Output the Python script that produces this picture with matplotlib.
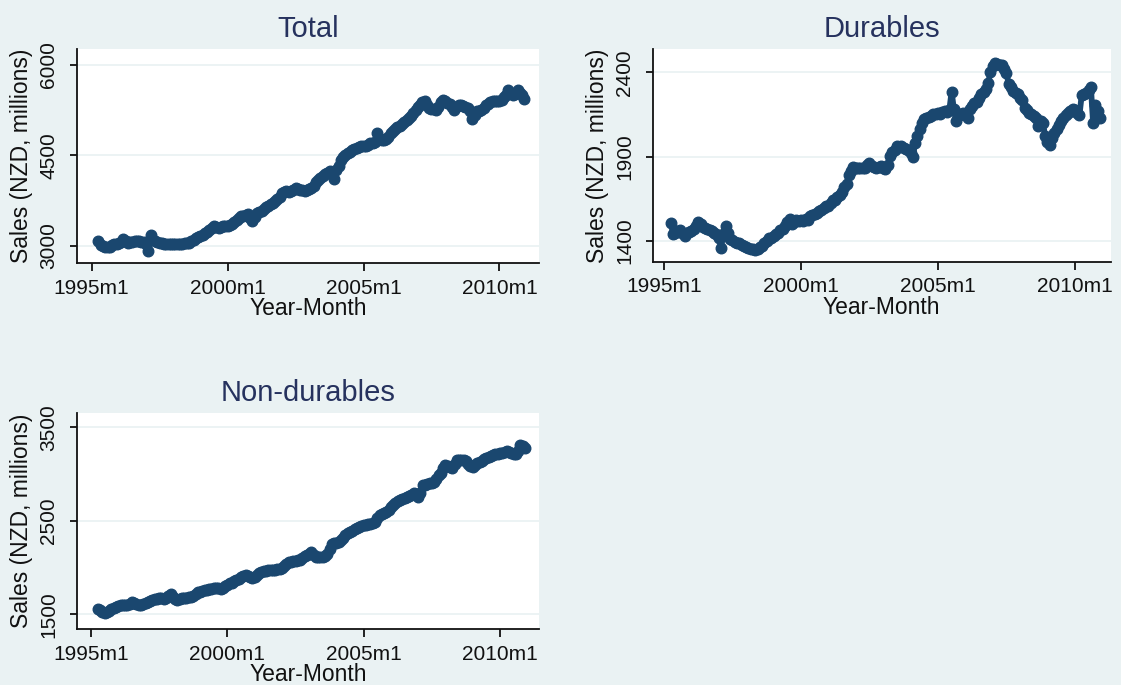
import matplotlib
matplotlib.use("Agg")
import matplotlib.pyplot as plt
import numpy as np
import pandas as pd

# ---------------- data (monthly, 1995m4 .. 2010m12) ----------------
start_month = "1995-04"
end_month = "2010-12"

total = [
    3080, 3015, 3000, 2980, 2975, 2990, 3010, 3025, 3040,                      # 1995 Apr-Dec
    3050, 3070, 3110, 3080, 3055, 3065, 3070, 3075, 3080, 3075, 3070, 3060,    # 1996
    3040, 2925, 3190, 3100, 3085, 3060, 3050, 3045, 3040, 3030, 3030, 3025,    # 1997
    3030, 3025, 3035, 3030, 3040, 3050, 3045, 3055, 3075, 3100, 3130, 3150,    # 1998
    3170, 3190, 3210, 3230, 3260, 3300, 3330, 3310, 3300, 3315, 3325, 3330,    # 1999
    3335, 3345, 3360, 3390, 3430, 3470, 3495, 3505, 3515, 3525, 3470, 3420,    # 2000
    3480, 3540, 3560, 3580, 3610, 3640, 3665, 3690, 3715, 3745, 3775, 3810,    # 2001
    3870, 3890, 3905, 3900, 3910, 3935, 3960, 3945, 3935, 3920, 3910, 3930,    # 2002
    3950, 3965, 4000, 4060, 4100, 4130, 4160, 4185, 4210, 4235, 4225, 4110,    # 2003
    4260, 4330, 4420, 4470, 4510, 4540, 4560, 4590, 4610, 4625, 4640, 4650,    # 2004
    4655, 4660, 4680, 4705, 4710, 4730, 4870, 4790, 4760, 4755, 4765, 4800,    # 2005
    4880, 4910, 4940, 4975, 4985, 5020, 5060, 5090, 5120, 5150, 5200, 5250,    # 2006
    5300, 5345, 5390, 5395, 5340, 5290, 5275, 5265, 5255, 5300, 5380, 5420,    # 2007
    5410, 5375, 5350, 5300, 5260, 5300, 5330, 5345, 5325, 5310, 5280, 5230,    # 2008
    5100, 5170, 5230, 5245, 5255, 5290, 5330, 5350, 5385, 5395, 5400, 5395,    # 2009
    5395, 5420, 5470, 5510, 5585, 5540, 5505, 5520, 5590, 5540, 5500, 5430,    # 2010
]

durables = [
    1505, 1440, 1450, 1460, 1465, 1445, 1430, 1450, 1455,                      # 1995 Apr-Dec
    1460, 1470, 1490, 1515, 1500, 1485, 1475, 1470, 1465, 1460, 1450, 1440,    # 1996
    1420, 1360, 1440, 1490, 1450, 1410, 1405, 1395, 1390, 1385, 1375, 1370,    # 1997
    1365, 1360, 1355, 1350, 1345, 1355, 1365, 1370, 1385, 1400, 1415, 1420,    # 1998
    1430, 1440, 1450, 1465, 1470, 1490, 1515, 1530, 1500, 1510, 1525, 1520,    # 1999
    1525, 1520, 1530, 1525, 1545, 1555, 1560, 1565, 1575, 1585, 1595, 1605,    # 2000
    1610, 1625, 1640, 1645, 1660, 1670, 1690, 1720, 1740, 1790, 1815, 1840,    # 2001
    1835, 1830, 1835, 1830, 1835, 1850, 1860, 1845, 1840, 1835, 1840, 1845,    # 2002
    1835, 1825, 1850, 1905, 1925, 1940, 1960, 1955, 1960, 1950, 1945, 1940,    # 2003
    1920, 1895, 1980, 2020, 2065, 2100, 2120, 2130, 2135, 2140, 2150, 2155,    # 2004
    2160, 2155, 2165, 2170, 2165, 2175, 2285, 2180, 2110, 2140, 2155, 2160,    # 2005
    2145, 2130, 2185, 2200, 2215, 2225, 2245, 2270, 2280, 2300, 2335, 2400,    # 2006
    2435, 2455, 2450, 2445, 2440, 2420, 2395, 2330, 2310, 2290, 2275, 2270,    # 2007
    2250, 2235, 2190, 2175, 2160, 2150, 2140, 2130, 2080, 2110, 2100, 2020,    # 2008
    1985, 1970, 2010, 2040, 2065, 2085, 2110, 2130, 2145, 2160, 2170, 2185,    # 2009
    2175, 2160, 2145, 2265, 2270, 2275, 2295, 2315, 2100, 2205, 2170, 2130,    # 2010
]

non_durables = [
    1560, 1545, 1530, 1510, 1520, 1540, 1555, 1565, 1580,                      # 1995 Apr-Dec
    1590, 1600, 1595, 1600, 1605, 1615, 1630, 1625, 1615, 1605, 1600, 1610,    # 1996
    1625, 1635, 1645, 1655, 1665, 1665, 1670, 1670, 1668, 1675, 1695, 1720,    # 1997
    1690, 1660, 1650, 1665, 1670, 1675, 1680, 1685, 1690, 1700, 1715, 1735,    # 1998
    1740, 1750, 1760, 1765, 1770, 1775, 1780, 1785, 1780, 1775, 1780, 1800,    # 1999
    1815, 1830, 1840, 1855, 1865, 1880, 1895, 1905, 1920, 1915, 1900, 1885,    # 2000
    1895, 1920, 1945, 1955, 1960, 1965, 1970, 1970, 1975, 1975, 1980, 1990,    # 2001
    2000, 2020, 2040, 2060, 2065, 2070, 2075, 2080, 2085, 2100, 2120, 2135,    # 2002
    2150, 2165, 2135, 2115, 2110, 2110, 2115, 2120, 2150, 2200, 2250, 2260,    # 2003
    2265, 2275, 2290, 2320, 2345, 2365, 2380, 2395, 2410, 2420, 2435, 2450,    # 2004
    2455, 2460, 2465, 2470, 2475, 2490, 2530, 2560, 2575, 2585, 2598, 2620,    # 2005
    2645, 2670, 2690, 2710, 2725, 2735, 2745, 2760, 2770, 2780, 2795, 2785,    # 2006
    2760, 2800, 2880, 2885, 2890, 2900, 2905, 2920, 2950, 2990, 3015, 3060,    # 2007
    3100, 3090, 3075, 3065, 3110, 3150, 3155, 3155, 3150, 3140, 3110, 3090,    # 2008
    3080, 3095, 3115, 3130, 3140, 3160, 3170, 3180, 3195, 3205, 3210, 3215,    # 2009
    3225, 3230, 3240, 3245, 3235, 3225, 3215, 3210, 3250, 3310, 3300, 3280,    # 2010
]

x_tick_labels = ["1995m1", "2000m1", "2005m1", "2010m1"]
total_yticks = [3000, 4500, 6000]
durables_yticks = [1400, 1900, 2400]
non_durables_yticks = [1500, 2500, 3500]
titles = ["Total", "Durables", "Non-durables"]
x_title = "Year-Month"
y_title = "Sales (NZD, millions)"

# ---------------- helpers ----------------
BASE = pd.Period("1995-01", freq="M")
periods = pd.period_range(start_month, end_month, freq="M")
xm = np.array([(p - BASE).n for p in periods])


def tick_pos(lbl):
    y, m = lbl.split("m")
    return (pd.Period(f"{y}-{int(m):02d}", freq="M") - BASE).n


xticks = [tick_pos(t) for t in x_tick_labels]

W, H = 1121, 685
BG = "#eaf2f3"
LINE = "#1a476f"
TITLE_C = "#26325e"
FONT = "Liberation Sans"

plt.rcParams["font.family"] = [FONT, "DejaVu Sans"]

fig = plt.figure(figsize=(W / 100, H / 100), dpi=100, facecolor=BG)


def add_axes_px(left, top, right, bottom):
    return fig.add_axes([left / W, 1 - bottom / H, (right - left) / W, (bottom - top) / H])


panels = [
    # (box px), xlim, ylim, yticks, series, title
    ((76.7, 49.3, 539.3, 263.3), (-6.6, 197.6), (2713, 6260), total_yticks, total, titles[0]),
    ((652.7, 49.3, 1110.7, 261.7), (-4.95, 195.7), (1277, 2536), durables_yticks, durables, titles[1]),
    ((76.7, 413.3, 539.3, 629.3), (-6.3, 197.3), (1340, 3650), non_durables_yticks, non_durables, titles[2]),
]

for box, xl, yl, yt, series, ttl in panels:
    left, top, right, bottom = box
    ax = add_axes_px(left, top, right, bottom)
    ax.set_facecolor("white")
    ax.set_xlim(*xl)
    ax.set_ylim(*yl)
    for v in yt:
        ax.axhline(v, color=BG, lw=1.3, zorder=0.5)
    ax.plot(xm, series, "-o", color=LINE, lw=4.2, ms=7.6, mec=LINE, mfc=LINE,
            zorder=3, solid_joinstyle="round", solid_capstyle="round")
    for s in ("top", "right"):
        ax.spines[s].set_visible(False)
    for s in ("left", "bottom"):
        ax.spines[s].set_linewidth(1.3)
        ax.spines[s].set_color("#111111")
    ax.set_xticks(xticks)
    ax.set_xticklabels(x_tick_labels, fontsize=15, color="#111111")
    ax.set_yticks(yt)
    ax.set_yticklabels([str(v) for v in yt], fontsize=15, color="#111111",
                       rotation=90, ha="center", va="center")
    ax.tick_params(axis="y", length=5, width=1.3, pad=15.0, colors="#111111")
    ax.tick_params(axis="x", length=5.5, width=1.3, pad=12.5, colors="#111111")
    for lab in ax.get_xticklabels():
        lab.set_va("center")
    cx = (left + right) / 2
    fig.text(cx / W, 1 - (top - 12.3) / H, ttl, ha="center", va="baseline",
             fontsize=21, color=TITLE_C)
    fig.text(cx / W, 1 - (bottom + 52) / H, x_title, ha="center", va="baseline",
             fontsize=16.5, color="#111111")
    fig.text((left - 55) / W, 1 - ((top + bottom) / 2) / H, y_title, ha="center",
             va="center", rotation=90, fontsize=16.5, color="#111111")

fig.savefig("out.png", dpi=100, facecolor=BG)
